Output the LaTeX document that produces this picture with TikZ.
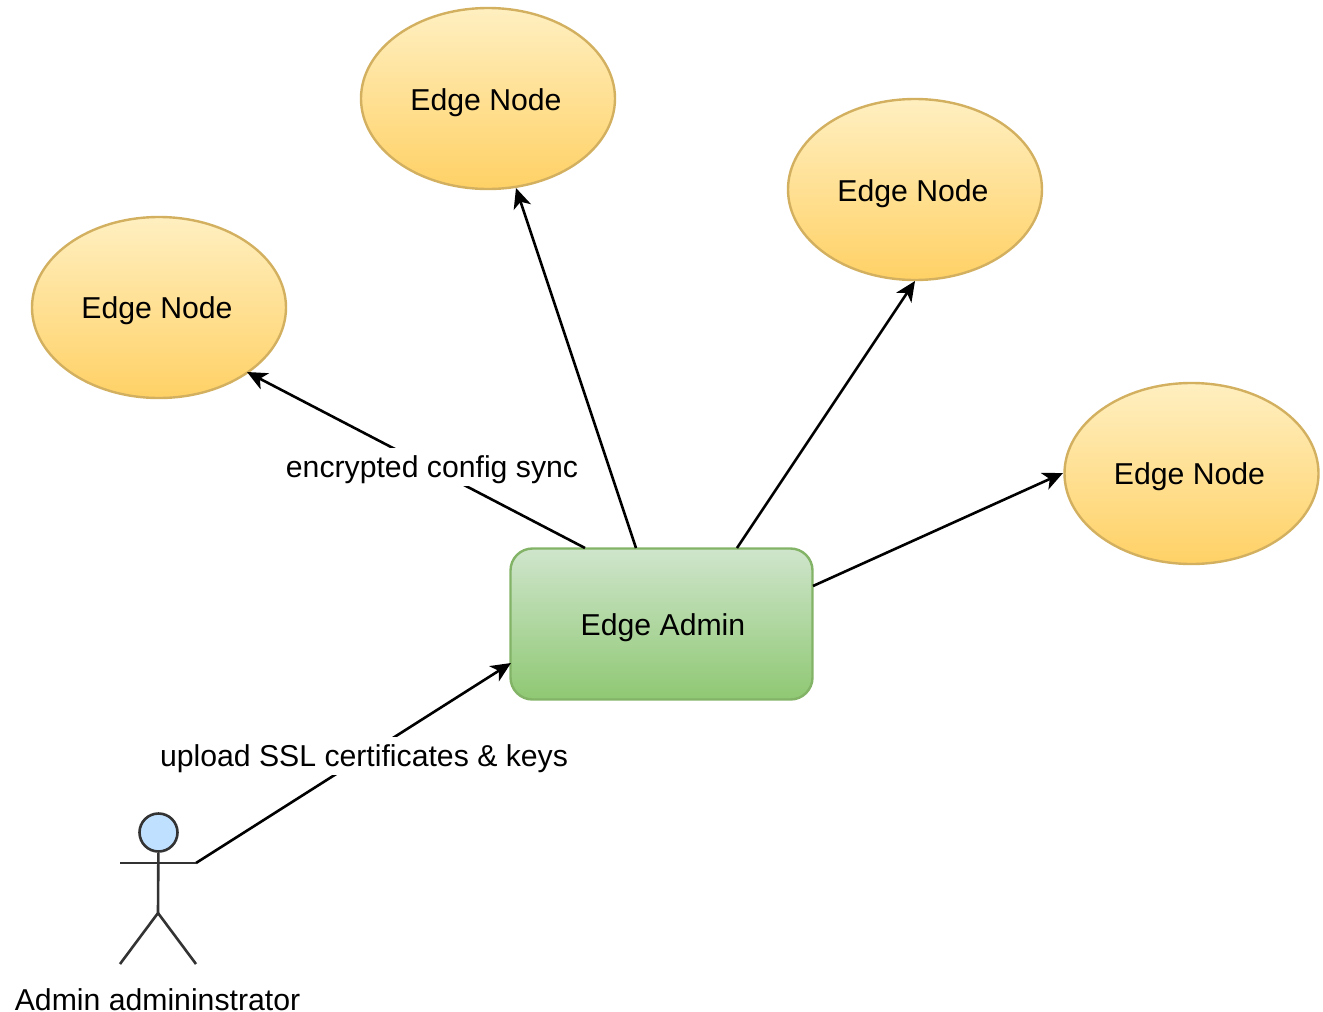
\documentclass[tikz,border=0pt]{standalone}
\usepackage{fontspec}
\setmainfont{Liberation Sans}
\usetikzlibrary{shapes.geometric,arrows.meta}
\definecolor{nodeline}{HTML}{D2B060}
\definecolor{nodetop}{HTML}{FFEFC0}
\definecolor{nodebot}{HTML}{FFD166}
\definecolor{adminline}{HTML}{82B366}
\definecolor{admintop}{HTML}{CFE5CC}
\definecolor{adminbot}{HTML}{8FC873}
\definecolor{actorfill}{HTML}{BFE0FF}
\definecolor{actorline}{HTML}{333333}
\tikzset{
  x=1pt,y=-1pt,
  lbl/.style={font=\fontsize{30.2}{36}\selectfont,inner sep=0pt,text=black},
  masklbl/.style={lbl,fill=white,anchor=base,inner xsep=1pt,text height=29.5pt,text depth=8.5pt},
  edgenode/.style={ellipse,draw=nodeline,line width=2.4pt,top color=nodetop,bottom color=nodebot,minimum width=254pt,minimum height=181pt,inner sep=0pt},
  adminbox/.style={rectangle,rounded corners=22pt,draw=adminline,line width=2.4pt,top color=admintop,bottom color=adminbot,minimum width=302pt,minimum height=151pt,inner sep=0pt},
  conn/.style={line width=2.6pt,draw=black,-{Stealth[length=20pt,width=18pt,inset=5.5pt]}},
  actorstroke/.style={line width=2.6pt,draw=actorline}
}
\begin{document}
\begin{tikzpicture}
\useasboundingbox (0,0) rectangle (1323,1012);
\node[edgenode] (n1) at (159,307.5) {};
\node[edgenode] (n2) at (488,98.5) {};
\node[edgenode] (n3) at (915,189.5) {};
\node[edgenode] (n4) at (1191.5,473.5) {};
\node[adminbox] (adm) at (661.5,624) {};
\node[lbl] at (157,311) (t1) {Edge Node};
\node[lbl] at (486,102.5) (t2) {Edge Node};
\node[lbl] at (913,193.5) (t3) {Edge Node};
\node[lbl] at (1189.5,477) (t4) {Edge Node};
\node[lbl] at (663,627.5) (t5) {Edge Admin};
\coordinate (a1) at (585,548);
\coordinate (a2) at (636,548);
\coordinate (a3) at (737,548);
\coordinate (a4) at (813,586);
\coordinate (e1) at (247,372);
\coordinate (e2) at (516,188);
\coordinate (e3) at (915,281);
\coordinate (e4) at (1063,473);
\draw[conn] (a1) -- (e1);
\draw[conn] (a2) -- (e2);
\draw[conn] (a3) -- (e3);
\draw[conn] (a4) -- (e4);
\coordinate (hand) at (196,863);
\coordinate (admin in) at (511,663);
\draw[conn] (hand) -- (admin in);
\node[masklbl] (l1) at (432,477.7) {encrypted config sync};
\node[masklbl] (l2) at (364,766.5) {upload SSL certificates \& keys};
\node[circle,draw=actorline,line width=2.6pt,fill=actorfill,minimum size=38pt,inner sep=0pt] (head) at (158.5,832.5) {};
\coordinate (hipc) at (158,913);
\coordinate (footl) at (120,964);
\coordinate (footr) at (196,964);
\coordinate (handl) at (120,863);
\draw[actorstroke] (head) -- (hipc) -- (footl);
\draw[actorstroke] (hipc) -- (footr);
\draw[actorstroke] (handl) -- (hand);
\node[lbl] (act) at (157.5,1000) {Admin admininstrator};
\end{tikzpicture}
\end{document}
